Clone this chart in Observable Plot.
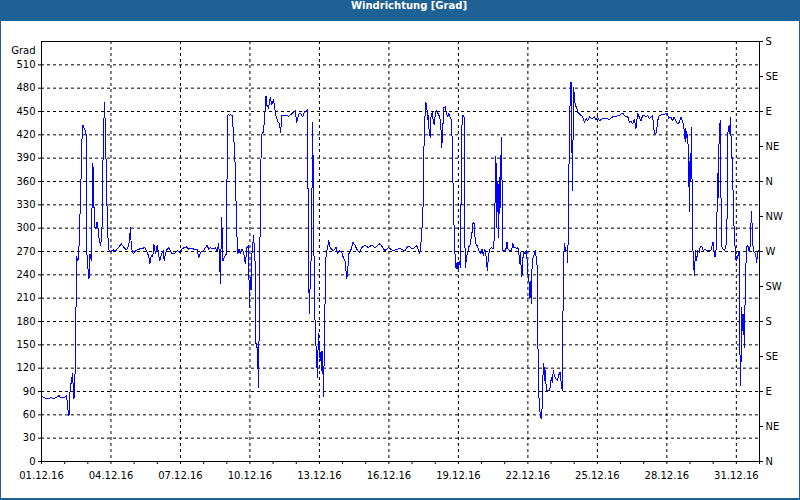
<!DOCTYPE html>
<html><head><meta charset="utf-8">
<script src="https://cdn.jsdelivr.net/npm/d3@7"></script>
<script src="https://cdn.jsdelivr.net/npm/@observablehq/plot@0.6"></script>
<style>
body{margin:0;background:#fff;}
#frame{width:800px;height:500px;background:#1e6194;position:relative;overflow:hidden;}
#title{height:21px;line-height:20px;color:#fff;font:bold 10px "DejaVu Sans";text-align:center;padding-left:18px;}
#chart{margin:0 1px;width:798px;height:477px;background:#fff;}
#chart svg{display:block;}
</style></head><body>
<div id="frame"><div id="title">Windrichtung [Grad]</div><div id="chart"></div></div>
<script>
// readings: [hours since 01.12.2016 00:00, direction in degrees]
const dec01to03 = [[0,85],[2.7,82],[6.2,81],[9.6,82],[13,81],[16.5,83],[18.2,85],[19.9,82],[23.4,82],[26.1,85],[26.9,70],[28.5,59],[29.6,91],[31,104],[32.4,113],[33.1,81],[34.4,84],[35.5,175],[36.5,263],[37.8,258],[38.9,278],[39.9,318],[40.9,361],[41.7,409],[43,432],[44.8,427],[46.1,425],[46.8,271],[48.2,248],[49.2,235],[50.2,267],[51.7,258],[52.3,323],[53.3,383],[54.4,327],[55.4,301],[56.4,299],[57.5,308],[58.5,301],[59.9,284],[61.3,278],[62.6,293],[64.1,419],[65.4,462],[66.8,393],[68.2,310],[69.3,275],[70.3,271]];
const dec03to09 = [[71.6,270],[74.4,272],[77.1,271],[80.2,276],[82.7,280],[85.4,275],[88.2,272],[90.5,278],[92.3,301],[93,275],[95.1,267],[97.5,271],[100.9,273],[104.4,274],[107.1,275],[109.6,269],[111.2,263],[112.2,254],[113.7,265],[115.3,263],[116.4,279],[118.1,267],[119.9,278],[121.5,265],[122.6,258],[124.3,267],[126.1,271],[127.1,258],[128.5,267],[130.2,273],[131.9,275],[133.6,271],[135.4,267],[137.8,267],[140.6,271],[143.3,269],[145.7,273],[147.4,275],[150.2,276],[152.6,273],[156.1,274],[159.5,272],[161.2,273],[162.9,262],[164.7,269],[167.4,270],[169.8,275],[171.6,278],[173.2,273],[175,275],[177.8,273],[180.2,275],[181.9,271],[183.6,280],[184.6,262],[185.3,229],[186.7,314],[188.1,258],[189.8,264],[191.2,266]];
const dec09to13 = [[192.2,361],[193.3,447],[194.6,445],[195.7,446],[197.4,445],[199.1,421],[200.8,378],[201.9,314],[203.2,267],[204.7,273],[206,267],[207.7,273],[209.4,269],[211.2,254],[212.9,275],[214.3,278],[215.6,198],[216.3,237],[217.1,220],[218.1,267],[219.8,290],[221.6,250],[222.2,152],[223.3,147],[224.6,113],[224.9,95],[225.7,194],[226.7,323],[227.4,387],[228.4,421],[230.1,424],[231.2,443],[232.6,470],[233.6,458],[235.3,454],[237,468],[238.8,459],[240.4,466],[241.5,455],[242.9,445],[244.5,438],[246.6,434],[247.7,423],[249.1,445],[252.5,445],[255.9,444],[259.4,447],[262.8,451],[264.5,436],[266.7,447],[268.7,447],[270.8,443],[272.2,449],[274.2,451],[275.6,453],[276,387],[276.6,258],[277.6,190],[278.3,224],[279.4,262],[280.4,361],[281.1,436],[281.8,318],[283.2,190],[284.3,152],[285.3,126],[285.9,108],[286.9,164],[288,147],[288.7,130],[289.7,142],[290.8,113],[291.5,142],[292.1,83],[292.8,126],[293.9,211],[294.9,267],[296.2,274]];
const dec13to17 = [[297.7,284],[299,275],[302.4,271],[305.2,275],[306.5,267],[308.3,271],[311.1,269],[312.8,262],[314.5,258],[316.3,235],[317.3,245],[318.3,267],[319.7,269],[321.4,275],[322.5,282],[324.9,278],[326.6,273],[329.3,269],[331.8,275],[335.2,278],[338.6,275],[342.1,278],[345.5,275],[350.7,280],[355.9,271],[359.3,275],[364.4,271],[371.4,274],[376.5,271],[379.9,277],[385.1,273],[388.6,278],[392,267]];
const dec17to20 = [[393.8,288],[395.5,331],[396.5,417],[398,462],[399,460],[400.1,440],[400.7,445],[401.7,425],[402.8,417],[403.5,442],[404.8,449],[405.9,438],[406.9,433],[408.3,449],[409.3,451],[411,447],[412.7,443],[413.8,431],[414.8,404],[415.5,421],[416.9,455],[418.3,456],[419.7,447],[420.7,443],[422.1,447],[423.4,443],[424.9,438],[425.5,413],[426.5,353],[427.6,297],[428.6,263],[429.6,248],[430.7,256],[431.7,246],[432.7,258],[434.1,250],[434.8,342],[435.8,438],[436.8,445],[437.9,443],[438.6,288],[439.3,250],[440.3,262],[441.7,269],[442.7,277],[443.8,277],[444.8,284],[445.9,292],[447.1,306],[448.2,307],[448.9,292],[449.9,280],[451.7,277],[453.3,271],[455.1,267],[456.4,273],[457.9,265],[459.2,273],[460.3,269],[461,258],[462,246],[463.1,263],[464.4,273],[466.2,275],[467.8,273],[468.8,280],[469.6,306],[470.3,361],[470.9,393],[471.6,301],[472.4,340],[473,361],[473.7,288],[474.4,365],[475,318],[475.8,370],[476.5,417],[477.1,374],[477.9,271]];
const dec20to24 = [[479.2,271],[481,271],[482.3,282],[483.4,273],[485.1,271],[486.8,271],[488.5,280],[489.5,275],[491.3,275],[492.6,273],[493.7,275],[494.7,267],[495.7,254],[496.4,269],[497.2,241],[497.8,237],[498.9,262],[499.9,269],[500.9,267],[502.3,271],[503.4,256],[504,241],[505,237],[505.8,211],[506.5,232],[507.5,203],[508.5,260],[509.6,262],[510.6,267],[511.6,271],[512.7,262],[513.7,250],[514.3,165],[515,91],[516.1,70],[517.1,57],[518.1,55],[518.9,74],[519.5,108],[520.5,126],[521.6,104],[522.3,117],[523,91],[524.7,91],[526.5,91],[527.5,98],[528.2,108],[529.3,102],[530.3,117],[531.4,111],[532.8,107],[534.5,104],[535.9,111],[537.6,115],[538.7,98],[539.7,91],[540.3,181],[541,263],[542,280],[543.1,271],[544.5,271],[545.2,256],[545.9,297],[546.5,374],[547.6,455],[548.7,488],[549.4,438],[550.1,348],[550.8,417],[551.5,481],[552.2,468],[552.9,460],[554.3,455],[555.4,451],[556.4,447]];
const dec24to31 = [[557.4,447],[560.8,443],[562.6,436],[564.3,441],[566,438],[567.7,443],[570.5,441],[572.9,443],[574.7,439],[576.3,443],[578.1,438],[581.5,441],[585,441],[588.4,440],[591.9,443],[595.4,444],[598.8,445],[602.2,448],[604,445],[605.7,443],[607.4,444],[609.1,436],[610.9,438],[612.5,434],[614.3,440],[616,428],[617.7,447],[619.4,443],[621.2,438],[622.9,445],[624.6,445],[626.4,443],[628,445],[629.8,441],[631.5,443],[633.2,445],[635,423],[636,421],[637.3,423],[638.4,438],[640.1,445],[643.5,446],[646.3,447],[648.7,448],[649.7,441],[652.2,443],[653.9,438],[655.6,443],[657.4,438],[659,434],[660.8,436],[662.5,443],[664.2,438],[665.2,432],[666.3,423],[667,411],[667.7,428],[668.3,417],[669.4,421],[670.1,404],[670.8,366],[671.4,321],[672.1,396],[672.9,361],[673.5,430],[674.2,348],[674.9,278],[675.6,254],[676.6,239],[677.6,271],[678.7,258],[680.1,271],[681.5,269],[682.5,276],[684.2,276],[685.9,271],[687.6,273],[689.3,271],[691.8,271],[693.5,271],[694.6,276],[695.9,282],[697,267],[698,263],[699.1,273],[699.8,310],[700.8,370],[701.4,340],[702.1,413],[703.2,438],[703.9,357],[704.9,276],[706.3,273],[708,271],[709.1,278],[710.1,280],[710.7,361],[711.4,426],[712.5,432],[713.2,421],[714.2,443],[714.8,391],[715.9,391],[716.9,327],[718,288],[719,271],[719.7,258],[720.8,265],[721.5,261],[722.1,269],[723.1,269],[723.5,181],[724.1,98],[724.9,130],[725.6,198],[726.2,168],[726.9,190],[727.7,173],[728.3,147],[729,203],[729.7,246],[730.8,276],[731.8,278],[733.1,271],[734.2,276],[735.2,306],[735.9,321],[736.5,297],[737.5,271],[738.6,269],[740,267],[741.1,256],[742.1,269],[743.4,271]];

const gradTicks = [0,30,60,90,120,150,180,210,240,270,300,330,360,390,420,450,480,510];
const compassTicks = [0,45,90,135,180,225,270,315,360,405,450,495,540];
const compassLabels = ["N","NE","E","SE","S","SW","W","NW","N","NE","E","SE","S"];
const labelDays = [1,4,7,10,13,16,19,22,25,28,31];

const start = Date.UTC(2016, 11, 1);
const end = Date.UTC(2017, 0, 1);
const data = [...dec01to03, ...dec03to09, ...dec09to13, ...dec13to17, ...dec17to20, ...dec20to24, ...dec24to31]
  .map(([h, v]) => ({date: new Date(start + h * 3600e3), dir: v}));
const labelDates = labelDays.map(d => new Date(Date.UTC(2016, 11, d)));
const dayTicks = d3.utcDay.range(new Date(start), new Date(end + 1));
const fmt = d3.utcFormat("%d.%m.%y");

const chart = Plot.plot({
  width: 798, height: 477,
  marginLeft: 40, marginRight: 40, marginTop: 20, marginBottom: 37,
  style: {fontFamily: "DejaVu Sans", fontSize: "10px", color: "black", background: "white", overflow: "visible"},
  x: {type: "utc", domain: [new Date(start), new Date(end)]},
  y: {domain: [0, 540]},
  marks: [
    Plot.gridY(gradTicks.filter(v => v > 0), {stroke: "black", strokeOpacity: 1, strokeDasharray: "3,3"}),
    Plot.gridX(labelDates.slice(1), {stroke: "black", strokeOpacity: 1, strokeDasharray: "3,3"}),
    Plot.line(data, {x: "date", y: "dir", stroke: "#0000ff", strokeWidth: 1, shapeRendering: "crispEdges"}),
    Plot.frame({stroke: "black"}),
    Plot.axisY(gradTicks, {anchor: "left", tickSize: 3, tickPadding: 3, label: null}),
    Plot.axisY(compassTicks, {anchor: "right", tickSize: 3, tickPadding: 3, label: null,
      tickFormat: d => compassLabels[compassTicks.indexOf(d)]}),
    Plot.axisX(dayTicks, {tickSize: 3, tickFormat: () => "", label: null}),
    Plot.axisX(labelDates, {tickSize: 0, tickPadding: 10, tickFormat: fmt, label: null}),
    Plot.text(["Grad"], {frameAnchor: "top-left", text: d => d, dx: -6, dy: 5, textAnchor: "end", fill: "black"})
  ]
});
document.getElementById("chart").appendChild(chart);
</script>
</body></html>
